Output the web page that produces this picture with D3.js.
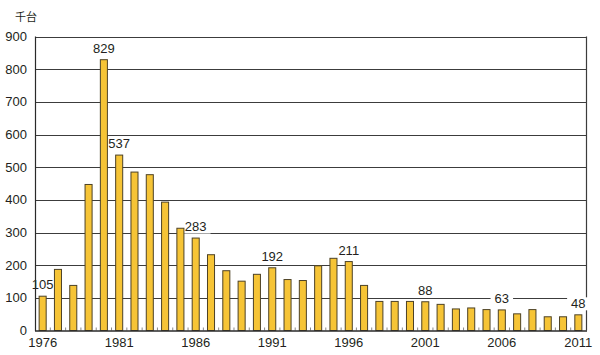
<!DOCTYPE html>
<html><head><meta charset="utf-8">
<script src="https://cdn.jsdelivr.net/npm/d3@7"></script>
<style>
html,body{margin:0;padding:0;background:#fff;}
svg{display:block;}
text{font-family:"Liberation Sans",Arial,Helvetica,sans-serif;fill:#231f20;}
</style></head>
<body><svg id="c" width="600" height="355"></svg>
<script>
const years = d3.range(1976, 2012);
const values = [105,187,138,447,829,537,485,477,393,313,283,232,183,151,172,192,156,153,198,221,211,138,89,89,89,88,80,66,69,64,63,51,64,42,42,48];
const labeledYears = [1976,1980,1981,1986,1991,1996,2001,2006,2011];
const yTicks = [0,100,200,300,400,500,600,700,800,900];
const xTickYears = [1976,1981,1986,1991,1996,2001,2006,2011];
const unitLabel = "千台";

const svg = d3.select("#c");
const L = 35, R = 586, T = 36.5, B = 330.5;
const x = d3.scaleBand().domain(years).range([L, R]).paddingInner(0.54).paddingOuter(0.27);
const y = d3.scaleLinear().domain([0, 900]).range([B, T]);
const step = x.step(), bw = x.bandwidth();

const gGrid = svg.append("g");
const gBg = svg.append("g");
const gBars = svg.append("g");
const gLab = svg.append("g");
const gFrame = svg.append("g");

// gridlines
gGrid.selectAll("line").data(yTicks.filter(v => v > 0)).join("line")
  .attr("x1", L).attr("x2", R).attr("y1", d => Math.round(y(d)) + 0.5).attr("y2", d => Math.round(y(d)) + 0.5)
  .attr("stroke", "#3c3c3c").attr("stroke-width", 1);
// right border
gGrid.append("line").attr("x1", R + 0.5).attr("x2", R + 0.5).attr("y1", T).attr("y2", B)
  .attr("stroke", "#3c3c3c").attr("stroke-width", 1.2);

// small ticks at slot boundaries
gBars.selectAll("line").data(years.slice(1)).join("line")
  .attr("x1", d => x(d) + bw / 2 - step / 2).attr("x2", d => x(d) + bw / 2 - step / 2)
  .attr("y1", B).attr("y2", B - 3)
  .attr("stroke", "#8a8a8a").attr("stroke-width", 1);

// bars
gBars.selectAll("rect").data(years).join("rect")
  .attr("x", d => x(d)).attr("width", bw)
  .attr("y", (d, i) => y(values[i])).attr("height", (d, i) => B - y(values[i]))
  .attr("fill", "#f6c436").attr("stroke", "#4d4226").attr("stroke-width", 1);

// value labels; white backgrounds mask gridlines only
labeledYears.forEach(yr => {
  const i = years.indexOf(yr);
  const by = y(values[i]) - 7;
  const t = gLab.append("text").attr("x", x(yr) + bw / 2).attr("y", by)
    .attr("text-anchor", "middle").attr("font-size", 13).text(values[i]);
  const bb = t.node().getBBox();
  gBg.append("rect").attr("x", bb.x - 4).attr("y", by - 10.5).attr("width", bb.width + 8).attr("height", 13)
    .attr("fill", "#fff");
});

// frame: top, left, bottom
gFrame.append("line").attr("x1", L).attr("x2", R + 1).attr("y1", Math.round(y(900)) + 0.5).attr("y2", Math.round(y(900)) + 0.5)
  .attr("stroke", "#3c3c3c").attr("stroke-width", 1.2);
gFrame.append("line").attr("x1", L + 0.5).attr("x2", L + 0.5).attr("y1", T).attr("y2", B + 0.5)
  .attr("stroke", "#2a2a2a").attr("stroke-width", 1.2);
gFrame.append("line").attr("x1", L).attr("x2", R + 1).attr("y1", B + 0.5).attr("y2", B + 0.5)
  .attr("stroke", "#2a2a2a").attr("stroke-width", 1.4);

// y axis labels
svg.append("g").selectAll("text").data(yTicks).join("text")
  .attr("x", 27).attr("y", d => y(d) + 4.5).attr("text-anchor", "end").attr("font-size", 13).text(d => d);

// x axis labels
svg.append("g").selectAll("text").data(xTickYears).join("text")
  .attr("x", d => x(d) + bw / 2).attr("y", 347).attr("text-anchor", "middle").attr("font-size", 13).text(d => d);

// unit label
svg.append("text").attr("x", 15).attr("y", 21).attr("font-size", 11)
  .style("font-family", "'Noto Sans CJK JP',sans-serif").text(unitLabel);
</script></body></html>
